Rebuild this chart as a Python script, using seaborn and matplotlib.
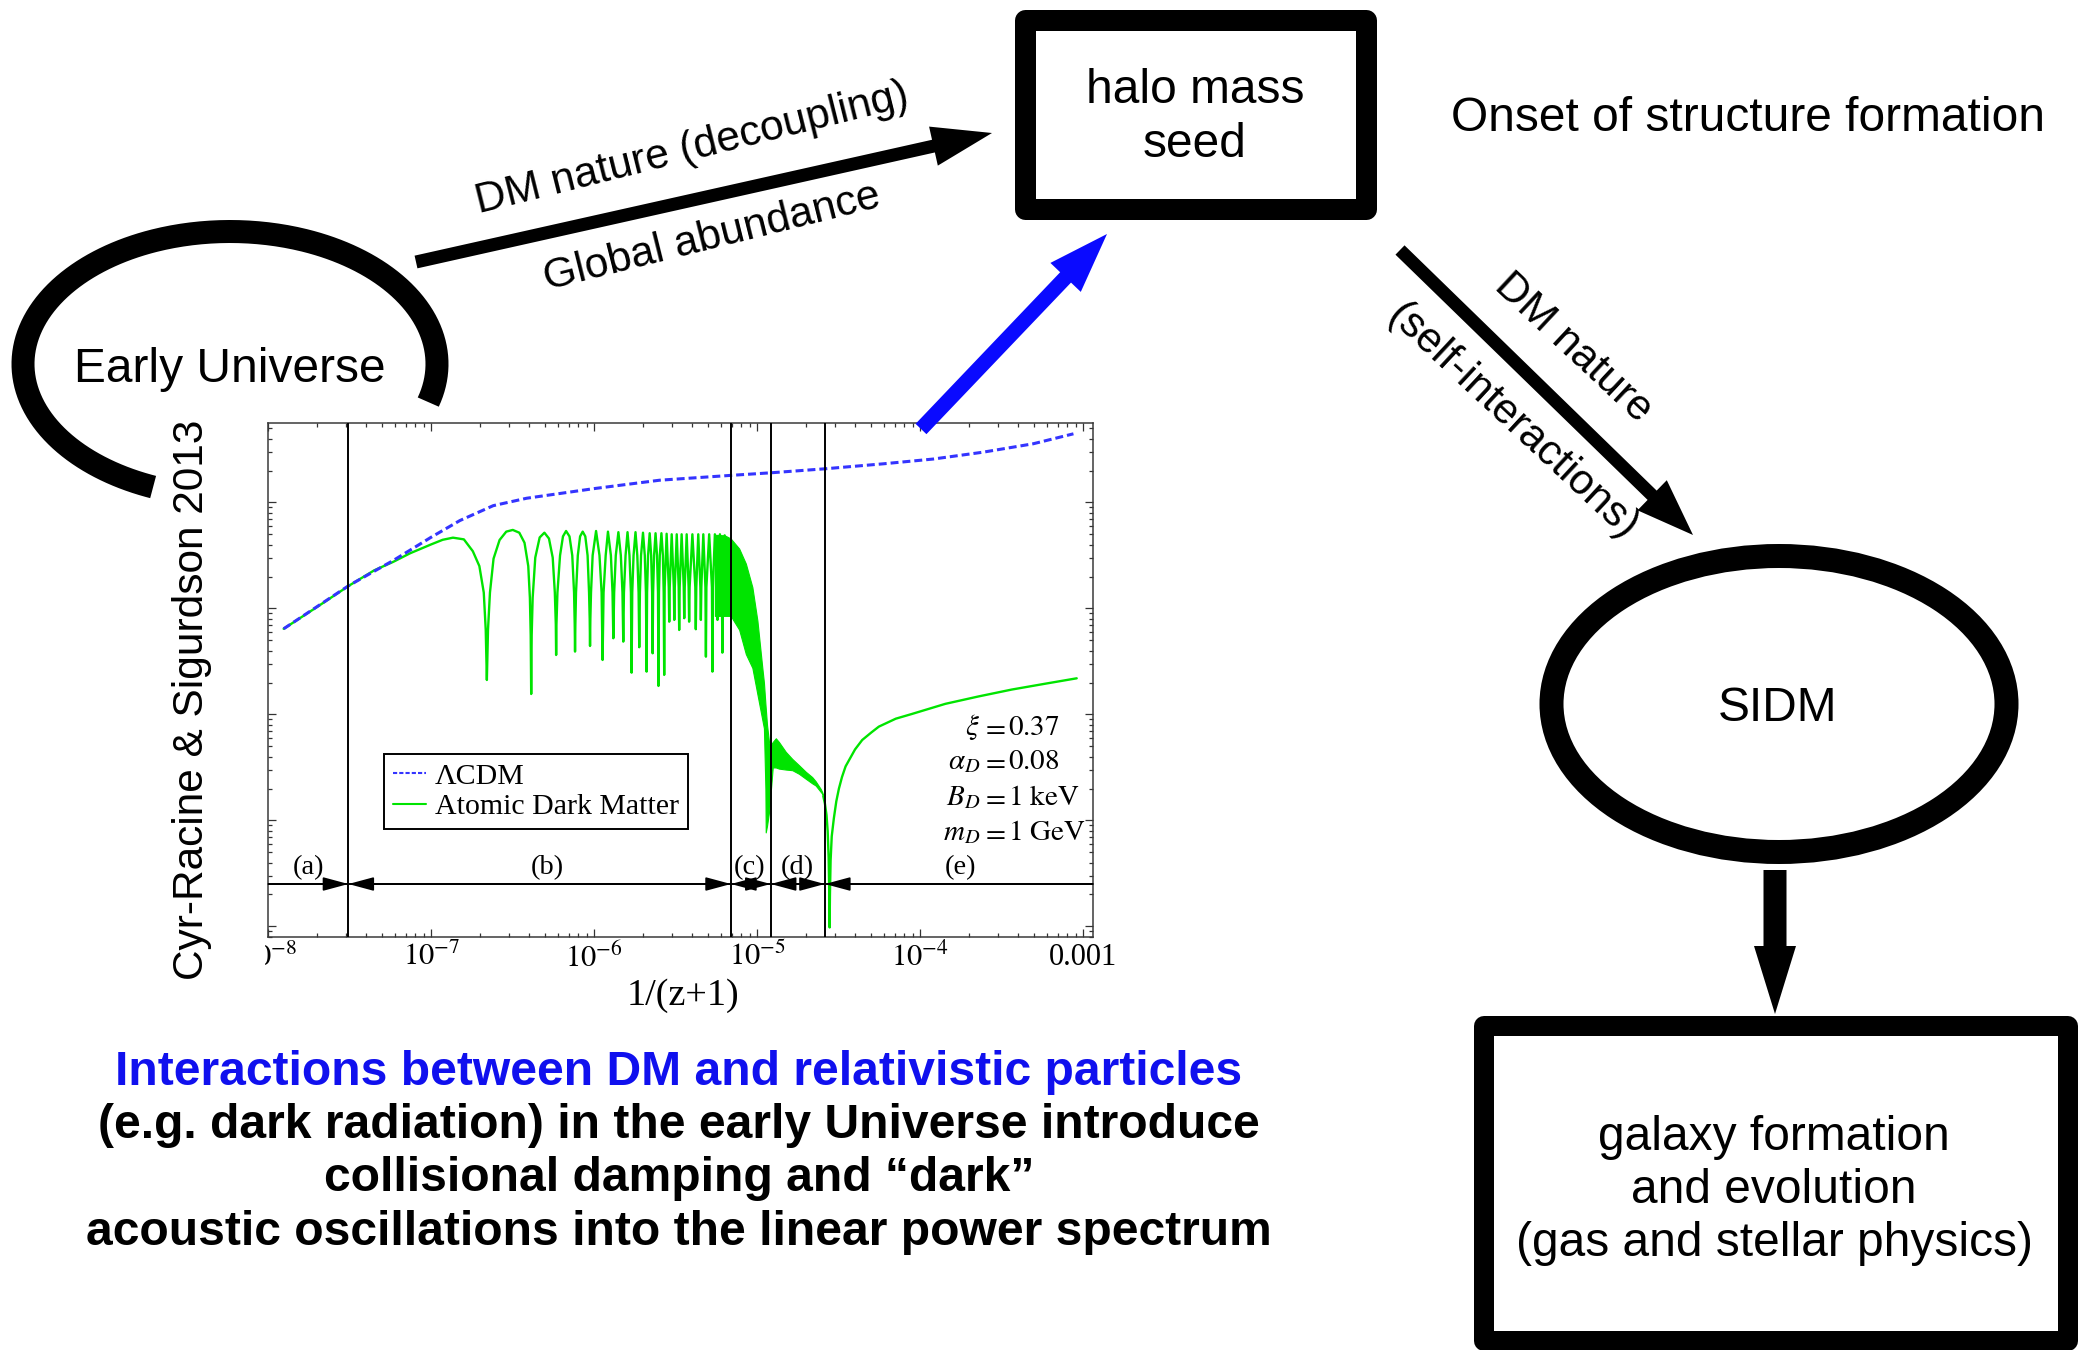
import numpy as np
import pandas as pd
import matplotlib
matplotlib.use("Agg")
import matplotlib.pyplot as plt
import seaborn as sns
from matplotlib.patches import Rectangle, Ellipse, FancyArrow
from matplotlib.lines import Line2D
from matplotlib.ticker import LogLocator, NullFormatter, FixedLocator, FixedFormatter
from matplotlib.transforms import Bbox, TransformedBbox, IdentityTransform

# ---------------------------------------------------------------------------
# Linear power at fixed scale vs. scale factor a = 1/(z+1)  (log10 values)
# ---------------------------------------------------------------------------
lcdm_log_a = [-7.906, -7.505, -7.233, -7.0, -6.824, -6.62, -6.415, -6.006,
              -5.60, -5.17, -4.918, -4.584, -4.226, -3.92, -3.613, -3.307, -3.06]
lcdm_log_p = [2.808, 3.217, 3.453, 3.673, 3.83, 3.97, 4.04, 4.13,
              4.21, 4.255, 4.28, 4.318, 4.365, 4.41, 4.475, 4.554, 4.648]

# atomic dark matter: growth + dark acoustic oscillations (regions a-b)
adm_osc_log_a = [
    -7.906, -7.70, -7.505, -7.35, -7.233, -7.131, -7.00, -6.93, -6.867, -6.80, -6.745,
    -6.705, -6.678, -6.666, -6.659, -6.652, -6.640, -6.618, -6.581, -6.540, -6.500,
    -6.460, -6.428, -6.405, -6.395, -6.390, -6.387, -6.384, -6.378, -6.362, -6.335,
    -6.306, -6.278, -6.255, -6.242, -6.236, -6.234, -6.232, -6.226, -6.210, -6.192,
    -6.173, -6.152, -6.135, -6.124, -6.120, -6.118, -6.116, -6.112, -6.101, -6.087,
    -6.071, -6.055, -6.041, -6.032, -6.028, -6.026, -6.024, -6.020, -6.010, -5.989,
    -5.968, -5.955, -5.949, -5.943, -5.930, -5.916, -5.898, -5.888, -5.883,
    -5.878, -5.868, -5.852, -5.837, -5.827, -5.822, -5.818, -5.808, -5.796, -5.784,
    -5.775, -5.771, -5.767, -5.759, -5.747, -5.736, -5.728, -5.724, -5.720, -5.713,
    -5.701, -5.690, -5.683, -5.679, -5.676, -5.670, -5.660, -5.651, -5.645, -5.642,
    -5.639, -5.633, -5.624, -5.615, -5.609, -5.606, -5.603, -5.598, -5.588, -5.579,
    -5.574, -5.571, -5.568, -5.556, -5.543, -5.540, -5.537, -5.525, -5.512, -5.509,
    -5.506, -5.494, -5.482, -5.479, -5.476, -5.464, -5.451, -5.448, -5.445, -5.433,
    -5.421, -5.418, -5.415, -5.398, -5.380, -5.377, -5.374, -5.362, -5.349, -5.346,
    -5.343, -5.331, -5.318, -5.315, -5.312, -5.295, -5.278, -5.275, -5.272, -5.260,
    -5.247, -5.244, -5.241, -5.229, -5.217, -5.214, -5.211, -5.200]
adm_osc_log_p = [
    2.808, 3.015, 3.215, 3.36, 3.44, 3.52, 3.605, 3.648, 3.668, 3.652, 3.54,
    3.40, 3.15, 2.80, 2.325, 2.80, 3.15, 3.47, 3.646, 3.725, 3.741,
    3.715, 3.62, 3.40, 3.10, 2.75, 2.193, 2.75, 3.10, 3.48, 3.67,
    3.715, 3.66, 3.48, 3.15, 2.85, 2.561, 2.85, 3.15, 3.50, 3.68,
    3.731, 3.68, 3.50, 3.15, 2.85, 2.593, 2.85, 3.15, 3.50, 3.68,
    3.725, 3.68, 3.50, 3.15, 2.90, 2.646, 2.90, 3.15, 3.50, 3.731,
    3.50, 3.15, 2.514, 3.15, 3.50, 3.725, 3.50, 3.15, 2.719,
    3.15, 3.50, 3.72, 3.50, 3.15, 2.687, 3.15, 3.50, 3.72, 3.50,
    3.15, 2.394, 3.15, 3.50, 3.72, 3.50, 3.15, 2.634, 3.15, 3.50,
    3.715, 3.50, 3.15, 2.404, 3.15, 3.50, 3.71, 3.50, 3.15, 2.577,
    3.15, 3.50, 3.71, 3.50, 3.15, 2.269, 3.15, 3.50, 3.71, 3.50,
    3.15, 2.373, 3.20, 3.705, 3.20, 2.875, 3.20, 3.70, 3.20, 2.892,
    3.20, 3.70, 3.20, 2.797, 3.20, 3.70, 3.20, 2.908, 3.20, 3.70,
    3.20, 2.875, 3.20, 3.70, 3.20, 2.804, 3.20, 3.70, 3.20, 2.892,
    3.20, 3.70, 3.20, 2.545, 3.20, 3.70, 3.20, 2.404, 3.20, 3.70,
    3.20, 2.892, 3.20, 3.70, 3.20, 2.583, 3.20, 3.69]

# region c: unresolved fast oscillations, damping
band_c_log_a = [-5.26, -5.20, -5.163, -5.111, -5.07, -5.03, -4.999, -4.969,
                -4.959, -4.950, -4.948, -4.940, -4.928, -4.921]
band_c_hi = [3.695, 3.69, 3.66, 3.565, 3.423, 3.201, 2.884, 2.441,
             2.30, 2.10, 2.06, 1.90, 1.742, 1.70]
band_c_lo = [2.93, 2.93, 2.93, 2.80, 2.57, 2.44, 2.19, 1.95,
             1.87, 1.30, 0.887, 0.95, 1.077, 1.20]

# region d: residual oscillations after decoupling
band_d_log_a = [-4.921, -4.905, -4.886, -4.867, -4.825, -4.785, -4.744, -4.703,
                -4.663, -4.642, -4.611, -4.601, -4.595]
band_d_hi = [1.70, 1.74, 1.775, 1.74, 1.647, 1.58, 1.521, 1.46,
             1.409, 1.37, 1.298, 1.265, 1.235]
band_d_lo = [1.20, 1.50, 1.50, 1.489, 1.48, 1.474, 1.44, 1.394,
             1.35, 1.330, 1.27, 1.251, 1.225]

# region e: free growth after the last zero crossing
adm_tail_log_a = [-4.595, -4.585, -4.575, -4.568, -4.562, -4.558, -4.556, -4.554,
                  -4.550, -4.543, -4.530, -4.515, -4.499, -4.480, -4.458, -4.40,
                  -4.356, -4.30, -4.254, -4.15, -4.05, -3.846, -3.642, -3.438,
                  -3.233, -3.04]
adm_tail_log_p = [1.23, 1.16, 1.05, 0.90, 0.65, 0.30, -0.01, 0.30,
                  0.62, 0.85, 1.02, 1.18, 1.30, 1.41, 1.51, 1.67,
                  1.759, 1.83, 1.885, 1.96, 2.005, 2.10, 2.17, 2.235,
                  2.29, 2.341]

epoch_bounds = [3.1e-8, 6.9e-6, 1.21e-5, 2.6e-5]
epoch_names = ["(a)", "(b)", "(c)", "(d)", "(e)"]
epoch_label_a = [10**-7.755, 10**-6.29, 10**-5.048, 10**-4.753, 10**-3.754]
x_ticks = [1e-7, 1e-6, 1e-5, 1e-4, 1e-3]
x_tick_labels = [r"$10^{-7}$", r"$10^{-6}$", r"$10^{-5}$", r"$10^{-4}$", "0.001"]
param_names = [r"$\xi$", r"$\alpha_D$", r"$B_D$", r"$m_D$"]
param_values = [r"$0.37$", r"$0.08$", r"$1\ \mathrm{keV}$", r"$1\ \mathrm{GeV}$"]
legend_names = ["ΛCDM", "Atomic Dark Matter"]

# ---------------------------------------------------------------------------
sns.set_theme(style="ticks")
plt.rcParams["font.family"] = ["Liberation Sans", "DejaVu Sans"]
plt.rcParams["mathtext.fontset"] = "stix"
plt.rcParams["text.color"] = "black"
plt.rcParams["xtick.color"] = "black"
plt.rcParams["ytick.color"] = "black"
plt.rcParams["xtick.labelcolor"] = "black"

W, H = 2078, 1350
PT = 0.72  # points per pixel at 100 dpi
BLUE_LINE = "#3434ff"
GREEN = "#00e400"
BLUE = "#0a0aff"
SERIF = ["Liberation Serif", "DejaVu Serif"]

fig = plt.figure(figsize=(W / 100, H / 100), dpi=100)
fig.patch.set_facecolor("white")

bg = fig.add_axes([0, 0, 1, 1], zorder=0)
bg.set_xlim(0, W)
bg.set_ylim(H, 0)
bg.axis("off")

fg = fig.add_axes([0, 0, 1, 1], zorder=10)
fg.set_xlim(0, W)
fg.set_ylim(H, 0)
fg.axis("off")
fg.patch.set_alpha(0)


def arrow(axx, tail, tip, shaft, head_w, head_l, color="black"):
    axx.add_patch(FancyArrow(tail[0], tail[1], tip[0] - tail[0], tip[1] - tail[1],
                             width=shaft, head_width=head_w, head_length=head_l,
                             length_includes_head=True, color=color, lw=0))


TXT = 34.5
TXT_ARROW = 30.7

# Early Universe (open ring)
t = np.radians(np.linspace(-16.7, 248.2, 400))
bg.plot(230 + 207 * np.cos(t), 364 - 132.5 * np.sin(t), color="black",
        lw=23 * PT, solid_capstyle="butt")
bg.text(230, 382, "Early Universe", ha="center", va="baseline", fontsize=TXT)

# arrow to halo mass seed
arrow(bg, (416, 262), (992, 133), 13, 40, 60)
bg.text(692, 149, "DM nature (decoupling)", ha="center", va="center",
        rotation=14, rotation_mode="anchor", fontsize=TXT_ARROW)
bg.text(712, 238, "Global abundance", ha="center", va="center",
        rotation=14, rotation_mode="anchor", fontsize=TXT_ARROW)

# halo mass seed box
bg.add_patch(Rectangle((1025, 19.5), 341, 189, fill=False, ec="black",
                       lw=21 * PT, joinstyle="round"))
bg.text(1195, 103, "halo mass", ha="center", va="baseline", fontsize=TXT)
bg.text(1195, 157, "seed", ha="center", va="baseline", fontsize=TXT)

bg.text(1748, 131, "Onset of structure formation", ha="center", va="baseline",
        fontsize=TXT)

# arrow to SIDM
arrow(bg, (1400, 250), (1693, 535), 13, 42, 57)
bg.text(1573, 348, "DM nature", ha="center", va="center", rotation=-43,
        rotation_mode="anchor", fontsize=TXT_ARROW)
bg.text(1512, 422, "(self-interactions)", ha="center", va="center", rotation=-43,
        rotation_mode="anchor", fontsize=TXT_ARROW)

# SIDM
bg.add_patch(Ellipse((1779, 704), 455, 296, fill=False, ec="black", lw=24 * PT))
bg.text(1778, 721, "SIDM", ha="center", va="baseline", fontsize=TXT)
arrow(bg, (1775, 870), (1775, 1014), 23, 42, 68)

# galaxy formation box
bg.add_patch(Rectangle((1484, 1026), 584, 315, fill=False, ec="black",
                       lw=20 * PT, joinstyle="round"))
for yb, s in zip([1150, 1203, 1256],
                 ["galaxy formation", "and evolution", "(gas and stellar physics)"]):
    bg.text(1774, yb, s, ha="center", va="baseline", fontsize=TXT)

# caption
cap = ["Interactions between DM and relativistic particles",
       "(e.g. dark radiation) in the early Universe introduce",
       "collisional damping and \u201cdark\u201d",
       "acoustic oscillations into the linear power spectrum"]
for i, (yb, s) in enumerate(zip([1085, 1138, 1191, 1245], cap)):
    bg.text(679, yb, s, ha="center", va="baseline", fontsize=34.6,
            fontweight="bold", color="#1010ee" if i == 0 else "black")

bg.text(192, 700, "Cyr-Racine & Sigurdson 2013", ha="center", va="center",
        rotation=90, fontsize=30.5)

# ---------------------------------------------------------------------------
# power spectrum panel
x0, x1, ytop, ybot = 268.3, 1093, 423, 937
ax = fig.add_axes([x0 / W, 1 - ybot / H, (x1 - x0) / W, (ybot - ytop) / H], zorder=2)
ax.set_facecolor("white")
ax.set_xscale("log")
ax.set_yscale("log")
ax.set_xlim(1e-8, 10**-2.94)
ax.set_ylim(10**-0.1, 10**4.75)

lcdm_df = pd.DataFrame({"a": np.power(10.0, lcdm_log_a),
                        "P": np.power(10.0, lcdm_log_p)})
adm_df = pd.concat([
    pd.DataFrame({"a": np.power(10.0, adm_osc_log_a),
                  "P": np.power(10.0, adm_osc_log_p), "seg": 0}),
    pd.DataFrame({"a": np.power(10.0, adm_tail_log_a),
                  "P": np.power(10.0, adm_tail_log_p), "seg": 1}),
], ignore_index=True)

ax.fill_between(np.power(10.0, band_c_log_a), np.power(10.0, band_c_lo),
                np.power(10.0, band_c_hi), color=GREEN, lw=0.8, ec=GREEN)
ax.fill_between(np.power(10.0, band_d_log_a), np.power(10.0, band_d_lo),
                np.power(10.0, band_d_hi), color=GREEN, lw=0.8, ec=GREEN)
sns.lineplot(data=adm_df, x="a", y="P", units="seg", estimator=None, sort=False,
             color=GREEN, lw=1.7, ax=ax)
sns.lineplot(data=lcdm_df, x="a", y="P", estimator=None, sort=False,
             color=BLUE_LINE, lw=2.2, linestyle=(0, (2.6, 1.3)), ax=ax)
ax.set_xlabel("")
ax.set_ylabel("")

# epoch boundaries and arrows
for xb in epoch_bounds:
    ax.axvline(xb, color="black", lw=1.4, zorder=3)
y_arrow = 10**0.4
ax.axhline(y_arrow, color="black", lw=1.4, zorder=3)
edges = [ax.get_xlim()[0]] + epoch_bounds + [ax.get_xlim()[1]]
for i in range(5):
    style = "<|-|>"
    if i == 0:
        style = "-|>"
    elif i == 4:
        style = "<|-"
    ax.annotate("", xy=(edges[i + 1], y_arrow), xytext=(edges[i], y_arrow),
                arrowprops=dict(arrowstyle=style + ",head_length=1.3,head_width=0.35",
                                color="black", lw=1.2, shrinkA=0, shrinkB=0),
                zorder=4)
for xl, name in zip(epoch_label_a, epoch_names):
    ax.text(xl, 10**0.552, name, ha="center", va="center", fontsize=20.5,
            family=SERIF)

# model parameters, aligned on the equals sign (pixel positions)
for yb, nm, val in zip([735, 769, 805, 840], param_names, param_values):
    fg.text(980, yb, nm, ha="right", va="baseline", fontsize=21)
    fg.text(993, yb, r"$=$", ha="center", va="baseline", fontsize=21)
    fg.text(1008, yb, val, ha="left", va="baseline", fontsize=21)

leg = ax.legend(handles=[Line2D([], [], color=BLUE_LINE, lw=1.5, linestyle=(0, (2.0, 1.0))),
                         Line2D([], [], color=GREEN, lw=1.5)],
                labels=legend_names, loc="upper left", bbox_to_anchor=(0.1403, 0.356),
                borderaxespad=0, frameon=True, fancybox=False, edgecolor="black",
                prop={"family": SERIF, "size": 21.5}, handlelength=1.1,
                handletextpad=0.3, borderpad=0.3, labelspacing=0.12)
leg.get_frame().set_linewidth(1.4)
leg.get_frame().set_alpha(1)

# frame and ticks
for sp in ax.spines.values():
    sp.set_color("#3a3a3a")
    sp.set_linewidth(1.1)
ax.xaxis.set_major_locator(FixedLocator(x_ticks + [1e-8]))
ax.xaxis.set_major_formatter(FixedFormatter(x_tick_labels + [""]))
ax.xaxis.set_minor_locator(LogLocator(base=10, subs=np.arange(2, 10), numticks=20))
ax.xaxis.set_minor_formatter(NullFormatter())
ax.yaxis.set_major_locator(LogLocator(base=10, numticks=20))
ax.yaxis.set_minor_locator(LogLocator(base=10, subs=np.arange(2, 10), numticks=20))
ax.yaxis.set_major_formatter(NullFormatter())
ax.yaxis.set_minor_formatter(NullFormatter())
ax.tick_params(which="both", direction="in", top=True, right=True,
               color="#333333", width=0.9, labelcolor="black")
ax.tick_params(which="major", length=6)
ax.tick_params(which="minor", length=3)
ax.tick_params(axis="x", which="major", labelsize=22, pad=4)
for lbl in ax.get_xticklabels():
    lbl.set_family(SERIF)

# leftmost tick label, cut by the panel edge
t8 = bg.text(x0, 943, r"$10^{-8}$", ha="center", va="top", fontsize=22)
t8.set_clip_box(TransformedBbox(Bbox.from_extents(265, 0, W, H), IdentityTransform()))
t8.set_clip_on(True)

bg.text(683, 996, "1/(z+1)", ha="center", va="center", fontsize=27.5, family=SERIF)

# blue arrow over the panel
arrow(fg, (921, 429), (1107, 234), 15, 42, 60, color=BLUE)

fig.savefig("out.png", dpi=100, facecolor="white")
